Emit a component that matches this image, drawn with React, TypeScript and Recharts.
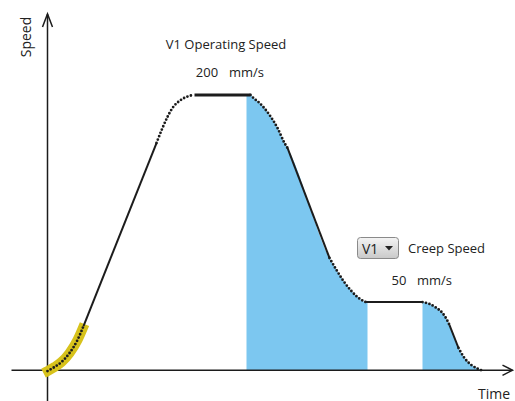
import React from "react";
import { ComposedChart, XAxis, YAxis, Line, Area } from "recharts";

// time (arbitrary units) vs speed (mm/s)
const startCurve = [
  { t: 0, v: 0 }, { t: 7, v: 2.9 }, { t: 14, v: 6.5 }, { t: 22, v: 13 }, { t: 30, v: 22.5 }, { t: 36, v: 32.6 },
];
const highlightCurve = [
  { t: -4, v: -1.5 }, { t: 0, v: 0 }, { t: 7, v: 2.9 }, { t: 14, v: 6.5 }, { t: 22, v: 13 }, { t: 30, v: 22.5 }, { t: 37, v: 34 },
];
const accelLine = [{ t: 36, v: 32.6 }, { t: 109, v: 165.2 }];
const accelRound = [
  { t: 109, v: 165.2 }, { t: 115, v: 176.1 }, { t: 120, v: 184.1 }, { t: 125, v: 190.6 },
  { t: 132, v: 195.7 }, { t: 139, v: 198.6 }, { t: 146, v: 200 },
];
const topFlat = [{ t: 147, v: 200 }, { t: 203, v: 200 }];
const decelRound = [
  { t: 203, v: 200 }, { t: 206, v: 197.8 }, { t: 212, v: 194.2 }, { t: 222, v: 185.5 },
  { t: 230, v: 176.1 }, { t: 237, v: 165.2 }, { t: 240, v: 161.6 },
];
const decelLine = [{ t: 240, v: 161.6 }, { t: 282, v: 81.9 }];
const decelToCreep = [
  { t: 282, v: 81.9 }, { t: 289, v: 73.2 }, { t: 296, v: 65.2 }, { t: 303, v: 58.7 },
  { t: 310, v: 53.6 }, { t: 318, v: 50 },
];
const creepFlat = [{ t: 318, v: 50 }, { t: 375, v: 50 }];
const creepRound = [
  { t: 375, v: 50 }, { t: 382, v: 48.6 }, { t: 389, v: 45.7 }, { t: 395, v: 42 },
  { t: 399, v: 37.7 }, { t: 402, v: 33.3 },
];
const creepLine = [{ t: 402, v: 33.3 }, { t: 411, v: 16.7 }];
const stopRound = [
  { t: 411, v: 16.7 }, { t: 417, v: 9.4 }, { t: 424, v: 4.3 }, { t: 430, v: 1.8 }, { t: 436, v: 0 },
];
const decelArea = [
  { t: 199, v: 200 }, ...decelRound, ...decelLine.slice(1), ...decelToCreep.slice(1), { t: 320, v: 50 },
];
const stopArea = [...creepRound, ...creepLine.slice(1), ...stopRound.slice(1)];

const yAxisLine = [{ t: 0, v: -25 }, { t: 0, v: 258.7 }];
const yArrow = [{ t: -5, v: 249.3 }, { t: 0, v: 258.7 }, { t: 5, v: 249.3 }];
const xAxisLine = [{ t: -36, v: 0.6 }, { t: 465, v: 0.6 }];
const xArrow = [{ t: 455, v: 4.3 }, { t: 465, v: 0.6 }, { t: 455, v: -3.1 }];

const tDomain = [-47.5, 467.5];
const vDomain = [-21.7, 268.8];

const INK = "#1c1c1c";
const BLUE = "#7cc7f0";
const YELLOW = "#d7c21b";
const FONT = "'Open Sans', 'Noto Sans', sans-serif";

const dotted = {
  stroke: INK,
  strokeWidth: 2.8,
  strokeDasharray: "0 3.6",
  strokeLinecap: "round" as const,
};

export default function App() {
  const line = (data: any[], key: string, extra: any, type: any = "linear") => (
    <Line
      key={key}
      data={data}
      dataKey="v"
      type={type}
      dot={false}
      activeDot={false}
      isAnimationActive={false}
      {...extra}
    />
  );
  return (
    <div style={{ width: 515, height: 401 }}>
      <style>{"body{margin:0}"}</style>
      <ComposedChart width={515} height={401} margin={{ top: 0, right: 0, bottom: 0, left: 0 }}>
        <XAxis type="number" dataKey="t" domain={tDomain} hide allowDataOverflow />
        <YAxis type="number" dataKey="v" domain={vDomain} hide allowDataOverflow />
        <Area data={decelArea} dataKey="v" type="monotone" fill={BLUE} fillOpacity={1} stroke="none" baseValue={0} isAnimationActive={false} dot={false} activeDot={false} />
        <Area data={stopArea} dataKey="v" type="monotone" fill={BLUE} fillOpacity={1} stroke="none" baseValue={0} isAnimationActive={false} dot={false} activeDot={false} />
        {line(xAxisLine, "xa", { stroke: INK, strokeWidth: 1.5 })}
        {line(xArrow, "xar", { stroke: INK, strokeWidth: 1.5 })}
        {line(yAxisLine, "ya", { stroke: INK, strokeWidth: 1.5 })}
        {line(yArrow, "yar", { stroke: INK, strokeWidth: 1.5 })}
        {line(highlightCurve, "hl", { stroke: YELLOW, strokeWidth: 10 }, "monotone")}
        {line(startCurve, "s1", dotted, "monotone")}
        {line(accelLine, "s2", { stroke: INK, strokeWidth: 2 })}
        {line(accelRound, "s3", dotted, "monotone")}
        {line(topFlat, "s4", { stroke: INK, strokeWidth: 3 })}
        {line(decelRound, "s5", dotted, "monotone")}
        {line(decelLine, "s6", { stroke: INK, strokeWidth: 2 })}
        {line(decelToCreep, "s7", dotted, "monotone")}
        {line(creepFlat, "s8", { stroke: INK, strokeWidth: 2 })}
        {line(creepRound, "s9", dotted, "monotone")}
        {line(creepLine, "s10", { stroke: INK, strokeWidth: 2 })}
        {line(stopRound, "s11", dotted, "monotone")}
        <g fontFamily={FONT} fontSize={13} fill="#222">
          <text x={25} y={37} textAnchor="middle" dominantBaseline="central" transform="rotate(-90 25 37)" fontSize={14}>Speed</text>
          <text x={494} y={393} textAnchor="middle" dominantBaseline="central" fontSize={14}>Time</text>
          <text x={226} y={44} textAnchor="middle" dominantBaseline="central">V1 Operating Speed</text>
          <text x={207} y={72} textAnchor="middle" dominantBaseline="central">200</text>
          <text x={246.5} y={72} textAnchor="middle" dominantBaseline="central">mm/s</text>
          <text x={408} y={248} textAnchor="start" dominantBaseline="central">Creep Speed</text>
          <text x={399} y={280} textAnchor="middle" dominantBaseline="central">50</text>
          <text x={434.5} y={280} textAnchor="middle" dominantBaseline="central">mm/s</text>
        </g>
        <defs>
          <linearGradient id="btn" x1="0" y1="0" x2="0" y2="1">
            <stop offset="0%" stopColor="#f4f4f4" />
            <stop offset="100%" stopColor="#c9c9c9" />
          </linearGradient>
        </defs>
        <g>
          <rect x={357.5} y={237.5} width={41} height={21} rx={3} fill="url(#btn)" stroke="#8a8a8a" />
          <text x={362} y={248} dominantBaseline="central" fontFamily={FONT} fontSize={14} fill="#222">V1</text>
          <path d="M385 246 L393 246 L389 250.5 Z" fill="#222" />
        </g>
      </ComposedChart>
    </div>
  );
}
